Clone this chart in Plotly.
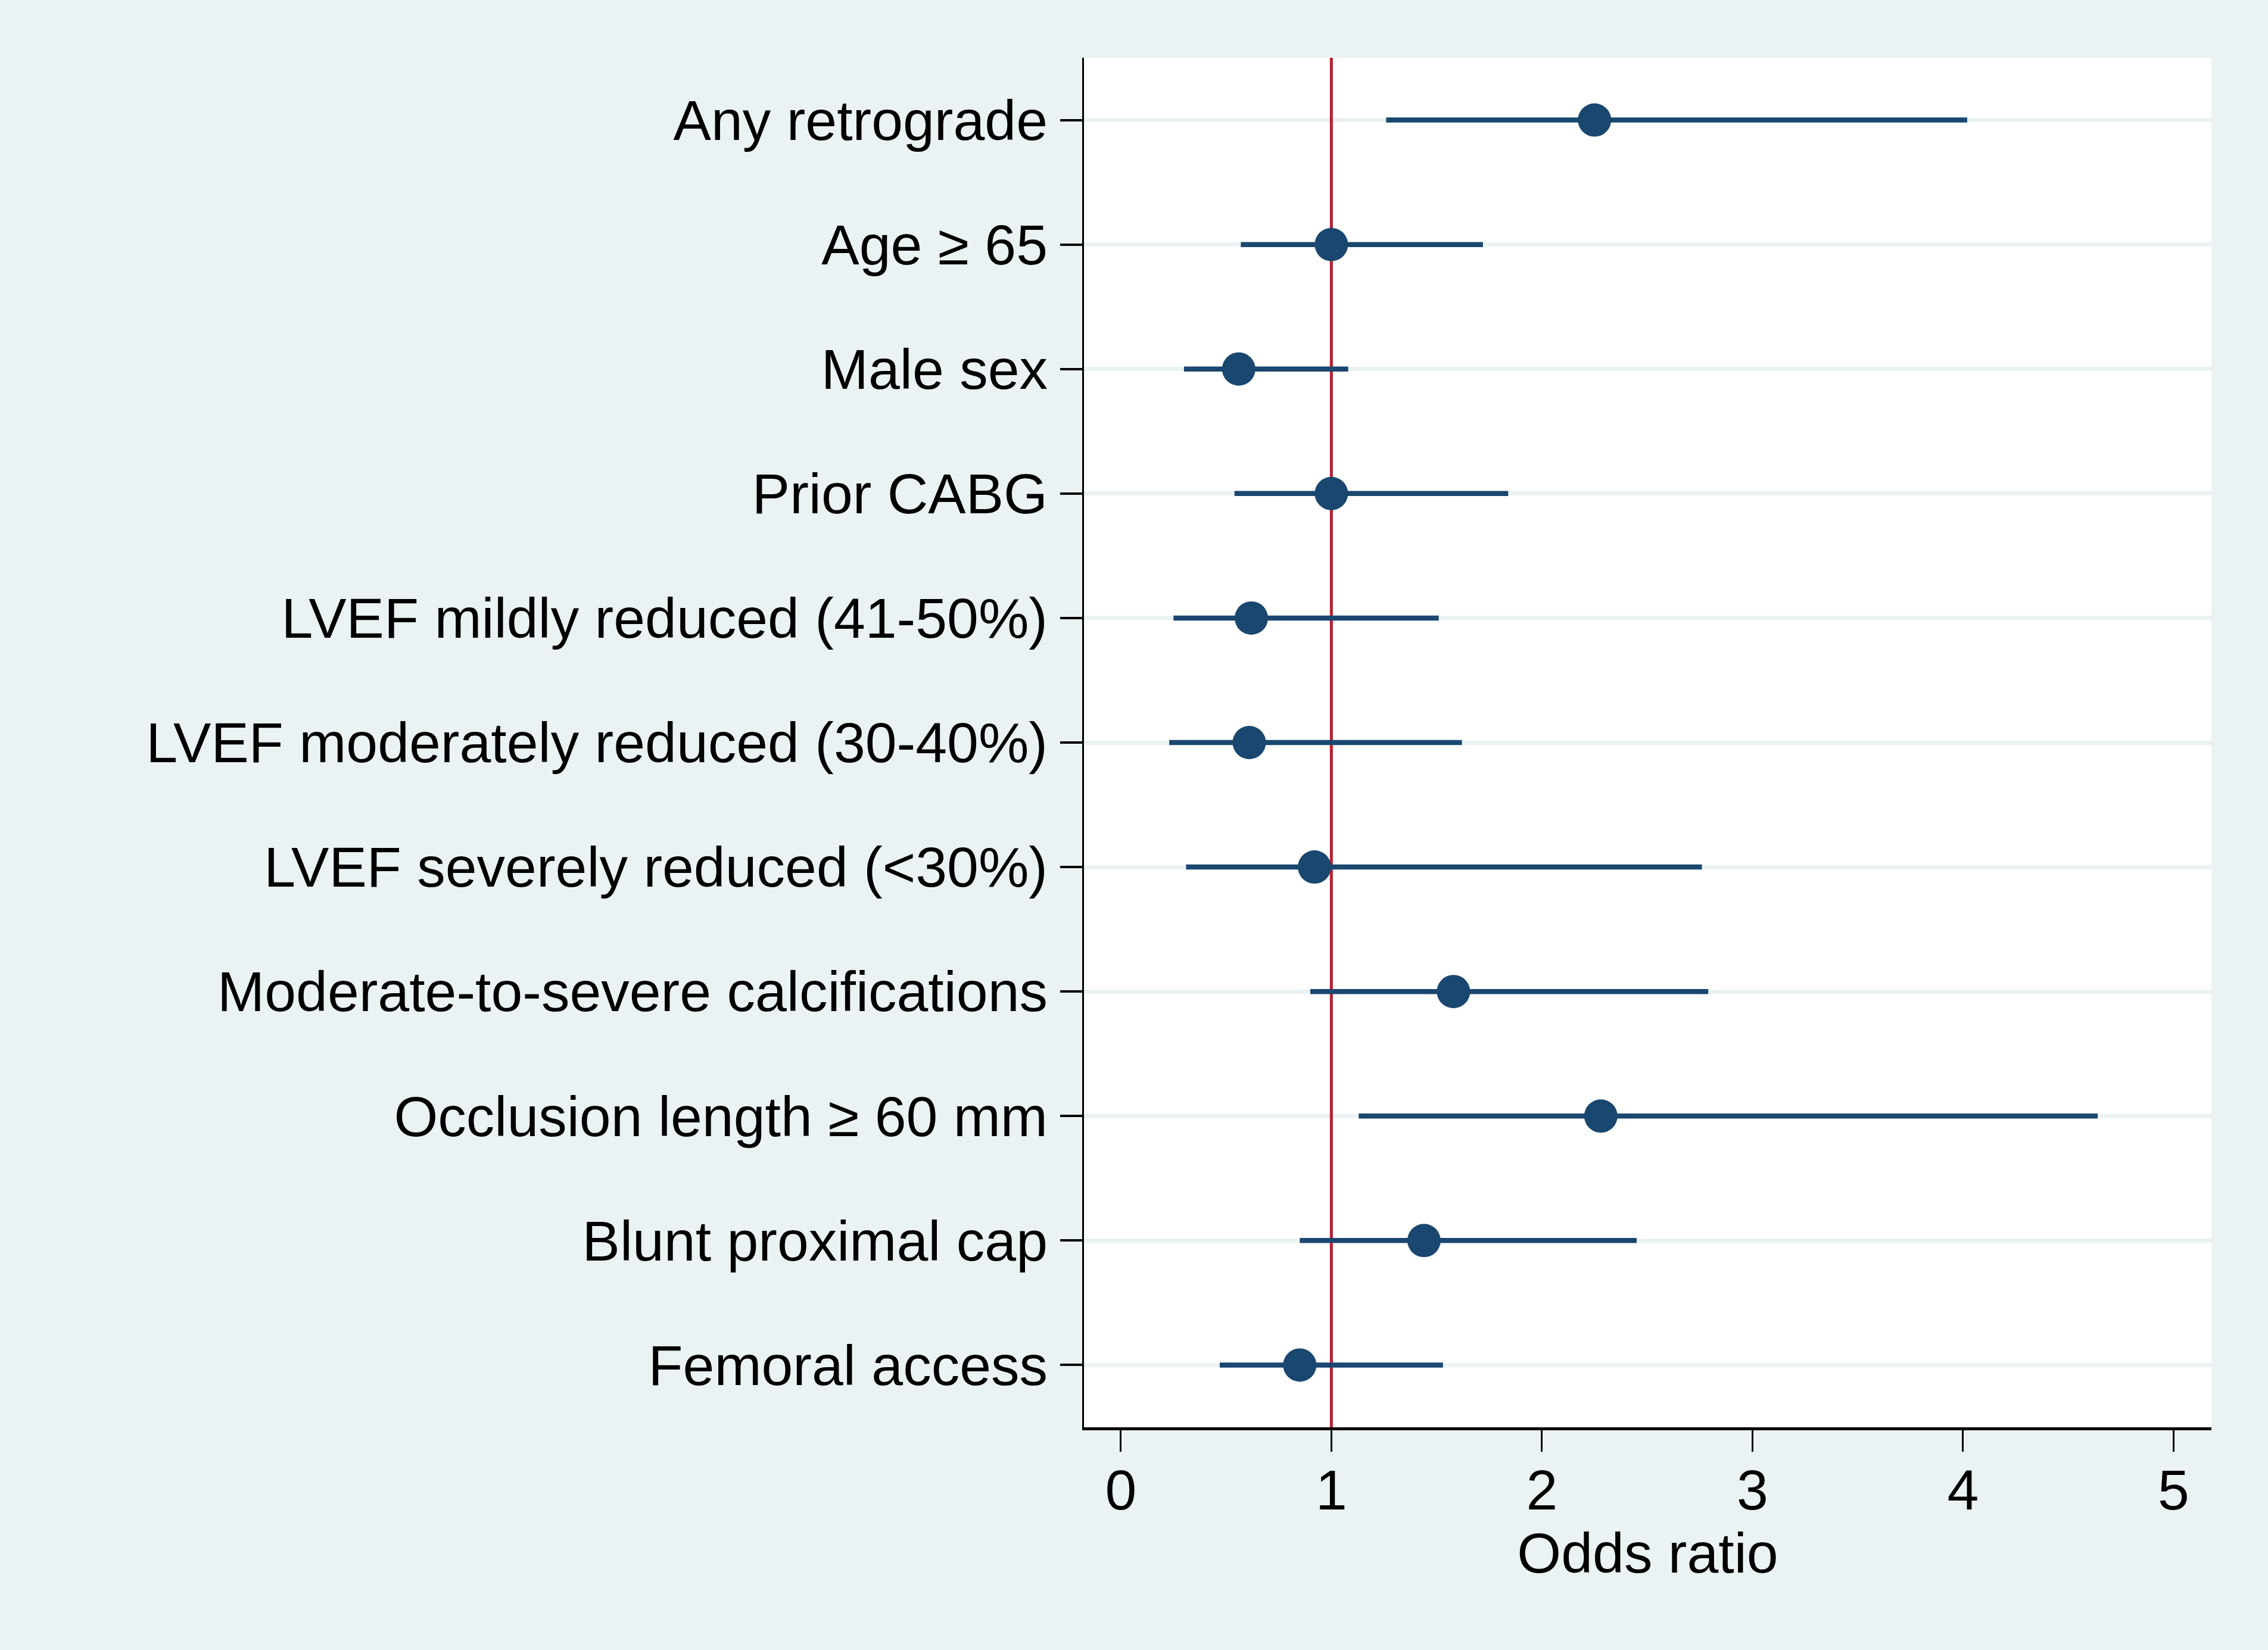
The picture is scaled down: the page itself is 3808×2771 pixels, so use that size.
import plotly.graph_objects as go

# ---- data ----
categories = [
    "Any retrograde",
    "Age ≥ 65",
    "Male sex",
    "Prior CABG",
    "LVEF mildly reduced (41-50%)",
    "LVEF moderately reduced (30-40%)",
    "LVEF severely reduced (<30%)",
    "Moderate-to-severe calcifications",
    "Occlusion length ≥ 60 mm",
    "Blunt proximal cap",
    "Femoral access",
]
odds_ratio = [2.25, 1.00, 0.56, 1.00, 0.62, 0.61, 0.92, 1.58, 2.28, 1.44, 0.85]
ci_low = [1.26, 0.57, 0.30, 0.54, 0.25, 0.23, 0.31, 0.90, 1.13, 0.85, 0.47]
ci_high = [4.02, 1.72, 1.08, 1.84, 1.51, 1.62, 2.76, 2.79, 4.64, 2.45, 1.53]
x_ticks = [0, 1, 2, 3, 4, 5]
REF_LINE = 1
x_title = "Odds ratio"

NAVY = "#1A476F"
RED = "#BA1F33"
BG = "#EAF2F3"
FONT = "Liberation Sans"

positions = list(range(len(categories)))
y_lo = -0.5
y_hi = len(categories) - 0.5

err_plus = [h - p for h, p in zip(ci_high, odds_ratio)]
err_minus = [p - l for p, l in zip(odds_ratio, ci_low)]

fig = go.Figure()
# reference line (under the estimates)
fig.add_trace(go.Scatter(
    x=[REF_LINE, REF_LINE],
    y=[y_lo, y_hi],
    mode="lines",
    line=dict(color=RED, width=5),
    hoverinfo="skip",
    showlegend=False,
))
fig.add_trace(go.Scatter(
    x=odds_ratio,
    y=positions,
    text=categories,
    mode="markers",
    marker=dict(color=NAVY, size=56, line=dict(width=0)),
    error_x=dict(type="data", array=err_plus, arrayminus=err_minus,
                 width=0, thickness=8.5, color=NAVY),
    showlegend=False,
))

fig.update_layout(
    width=3808,
    height=2771,
    margin=dict(l=1820, r=95, t=97, b=374),
    paper_bgcolor=BG,
    plot_bgcolor="white",
    font=dict(family=FONT, size=95, color="black"),
    showlegend=False,
)

fig.update_xaxes(
    range=[-0.175, 5.18],
    tickvals=x_ticks,
    ticktext=[str(t) for t in x_ticks],
    ticks="outside",
    ticklen=36,
    tickwidth=3,
    tickcolor="black",
    showline=True,
    linecolor="black",
    linewidth=5,
    showgrid=False,
    zeroline=False,
    title=dict(text=x_title, font=dict(size=95), standoff=5),
    tickfont=dict(size=95),
    ticklabelstandoff=-17,
)

fig.update_yaxes(
    range=[y_hi, y_lo],
    tickvals=positions,
    ticktext=categories,
    ticks="outside",
    ticklen=37,
    tickwidth=4,
    tickcolor="black",
    showline=True,
    linecolor="black",
    linewidth=3,
    showgrid=True,
    gridcolor=BG,
    gridwidth=7,
    zeroline=False,
    tickfont=dict(size=95),
    ticklabelstandoff=2,
)

fig.write_html("out.html", config={"displayModeBar": False},
               post_script="document.body.style.margin='0';")
